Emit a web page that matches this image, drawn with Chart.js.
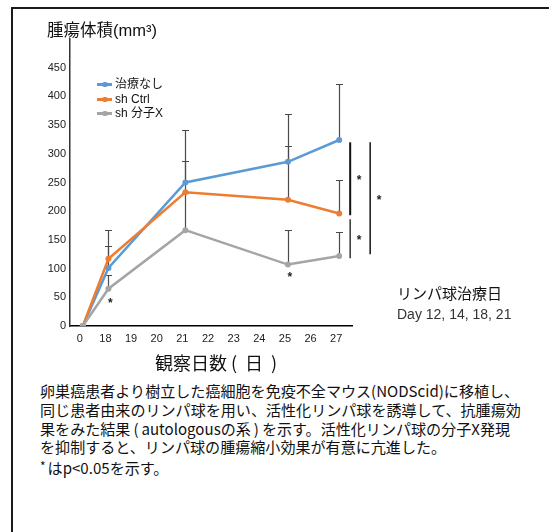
<!DOCTYPE html>
<html>
<head>
<meta charset="utf-8">
<script src="https://cdn.jsdelivr.net/npm/chart.js@4"></script>
<style>
  html, body { margin: 0; padding: 0; background: #fff; }
  body {
    width: 549px; height: 532px; position: relative; overflow: hidden;
    font-family: "Liberation Sans", "Noto Sans CJK JP", sans-serif; color: #111;
  }
  #frame {
    position: absolute; left: 11px; top: 7px; width: 600px; height: 600px;
    border-left: 2px solid #1a1a1a; border-top: 2px solid #1a1a1a;
  }
  #wrap { position: absolute; left: 0; top: 0; width: 549px; height: 352px; }
  .t { position: absolute; white-space: nowrap; line-height: 1; }
  .legend-item { position: absolute; left: 97px; height: 14px; }
  .legend-item .ln { position: absolute; left: 0; top: 6px; width: 15px; height: 2.5px; }
  .legend-item .dot { position: absolute; left: 5px; top: 4.5px; width: 5.5px; height: 5.5px; border-radius: 50%; }
  .legend-item .lb { position: absolute; left: 18px; top: 0; font-size: 12px; line-height: 14px; white-space: nowrap; color: #111; }
  .narrow { font-family: "Liberation Sans Narrow", "Noto Sans CJK JP", sans-serif; }
  #para {
    position: absolute; left: 40px; top: 382px; font-size: 15.07px; line-height: 18.8px;
    color: #111; white-space: nowrap;
    font-family: "Liberation Sans Narrow", "Noto Sans CJK JP", sans-serif;
  }
  .gap { margin: 0 3px; }
</style>
</head>
<body>
<div id="frame"></div>
<div id="wrap"><canvas id="chart" width="549" height="352"></canvas></div>

<div class="t" style="left:47px; top:22px; font-size:16.5px;">腫瘍体積(mm³)</div>
<div id="legend"></div>
<div class="t narrow" style="left:155px; top:353px; font-size:18px;">観察日数<span style="margin-left:4px;">(</span><span style="margin:0 8px;">日</span>)</div>
<div class="t" style="left:397px; top:286px; font-size:15px;">リンパ球治療日</div>
<div class="t" style="left:397px; top:307px; font-size:14px; color:#333;">Day 12, 14, 18, 21</div>
<div id="para">卵巣癌患者より樹立した癌細胞を免疫不全マウス(NODScid)に移植し、<br>同じ患者由来のリンパ球を用い、活性化リンパ球を誘導して、抗腫瘍効<br>果をみた結果<span class="gap">(</span>autologousの系<span class="gap">)</span>を示す。活性化リンパ球の分子X発現<br>を抑制すると、リンパ球の腫瘍縮小効果が有意に亢進した。<br><span style="font-size:12px; vertical-align:3px; margin-right:2px;">*</span>はp&lt;0.05を示す。</div>

<script>
// Observation days (category axis)
const categories = ['0', '18', '19', '20', '21', '22', '23', '24', '25', '26', '27'];

// Mean tumour volume (mm3) per group
const seriesNames = ['治療なし', 'sh Ctrl', 'sh 分子X'];
const noTreatment = [0, 101, null, null, 250, null, null, null, 286, null, 324];
const shCtrl      = [0, 117, null, null, 233, null, null, null, 220, null, 196];
const shMoleculeX = [0, 65,  null, null, 167, null, null, null, 107, null, 122];

// Upper end of the error bars
const noTreatmentUpper = [null, 139, null, null, 341, null, null, null, 370, null, 421];
const shCtrlUpper      = [null, 167, null, null, 287, null, null, null, 313, null, 254];
const shMoleculeXUpper = [null, 89,  null, null, 231, null, null, null, 168, null, 163];

// Y axis ticks
const yMin = 0, yMax = 500, yStep = 50;

// Significance brackets at day 27 (value range covered by each bracket)
const bracketFrom = [320, 186, 320];
const bracketTo   = [193, 118, 125];

// Single-point significance marks under the sh 分子X line
const markDays   = ['18', '25'];
const markValues = [44, 90];

const colors = ['#5B9BD5', '#ED7D31', '#A5A5A5'];
const series = [noTreatment, shCtrl, shMoleculeX];
const uppers = [noTreatmentUpper, shCtrlUpper, shMoleculeXUpper];

// HTML legend
const legendEl = document.getElementById('legend');
const legendTops = [77, 92, 106];
seriesNames.forEach((name, i) => {
  const item = document.createElement('div');
  item.className = 'legend-item';
  item.style.top = legendTops[i] + 'px';
  item.innerHTML = '<div class="ln" style="background:' + colors[i] + '"></div>' +
    '<div class="dot" style="background:' + colors[i] + '"></div>' +
    '<div class="lb">' + name + '</div>';
  legendEl.appendChild(item);
});

const errorBars = {
  id: 'errorBars',
  beforeDatasetsDraw(chart) {
    const { ctx, scales: { x, y } } = chart;
    ctx.save();
    ctx.strokeStyle = '#4a4a4a';
    ctx.lineWidth = 1.2;
    uppers.forEach((arr, di) => {
      arr.forEach((u, i) => {
        if (u == null) return;
        const px = Math.round(x.getPixelForValue(i)) + 0.5;
        const y0 = y.getPixelForValue(series[di][i]);
        const y1 = Math.round(y.getPixelForValue(u)) + 0.5;
        ctx.beginPath();
        ctx.moveTo(px, y0);
        ctx.lineTo(px, y1);
        ctx.moveTo(px - 3.5, y1);
        ctx.lineTo(px + 3.5, y1);
        ctx.stroke();
      });
    });
    ctx.restore();
  }
};

const significance = {
  id: 'significance',
  afterDatasetsDraw(chart) {
    const { ctx, scales: { x, y } } = chart;
    const last = x.getPixelForValue(categories.length - 1);
    const xs = [last + 11, last + 11, last + 31];
    const widths = [2, 1.5, 1.6];
    const strokes = ['#111', '#333', '#222'];
    ctx.save();
    ctx.fillStyle = '#222';
    ctx.font = 'bold 12px "Liberation Sans"';
    ctx.textAlign = 'center';
    ctx.textBaseline = 'middle';
    bracketFrom.forEach((from, i) => {
      const y0 = y.getPixelForValue(from);
      const y1 = y.getPixelForValue(bracketTo[i]);
      ctx.strokeStyle = strokes[i];
      ctx.lineWidth = widths[i];
      ctx.beginPath();
      ctx.moveTo(xs[i], y0);
      ctx.lineTo(xs[i], y1);
      ctx.stroke();
      ctx.fillText('*', xs[i] + 9, (y0 + y1) / 2 + 2);
    });
    markDays.forEach((d, i) => {
      const px = x.getPixelForValue(categories.indexOf(d));
      ctx.fillText('*', px + 2, y.getPixelForValue(markValues[i]) + 3);
    });
    ctx.restore();
  }
};

const orders = [3, 2, 1];
new Chart(document.getElementById('chart'), {
  type: 'line',
  data: {
    labels: categories,
    datasets: series.map((data, i) => ({
      label: seriesNames[i],
      data: data,
      borderColor: colors[i],
      backgroundColor: colors[i],
      borderWidth: 2.5,
      pointRadius: 3,
      pointHoverRadius: 3,
      pointBorderWidth: 0,
      spanGaps: true,
      tension: 0,
      order: orders[i]
    }))
  },
  options: {
    responsive: false,
    animation: false,
    devicePixelRatio: 1,
    layout: { padding: { left: 40, top: 39, right: 197, bottom: 0 } },
    plugins: { legend: { display: false }, tooltip: { enabled: false } },
    scales: {
      x: {
        offset: true,
        grid: { display: false, drawTicks: false },
        border: { display: true, color: '#000', width: 1.5 },
        ticks: {
          padding: 6, color: '#222', maxRotation: 0, autoSkip: false, labelOffset: -3,
          font: { size: 11, family: 'Liberation Sans' }
        },
        afterFit(s) { s.height = 26; }
      },
      y: {
        min: yMin, max: yMax,
        grid: { display: false, drawTicks: false },
        border: { display: true, color: '#333', width: 1.5 },
        ticks: {
          stepSize: yStep, padding: 4, color: '#222',
          font: { size: 11, family: 'Liberation Sans' },
          callback: v => (v === yMax ? '' : v)
        },
        afterFit(s) { s.width = 30; }
      }
    }
  },
  plugins: [errorBars, significance]
});
</script>
</body>
</html>
